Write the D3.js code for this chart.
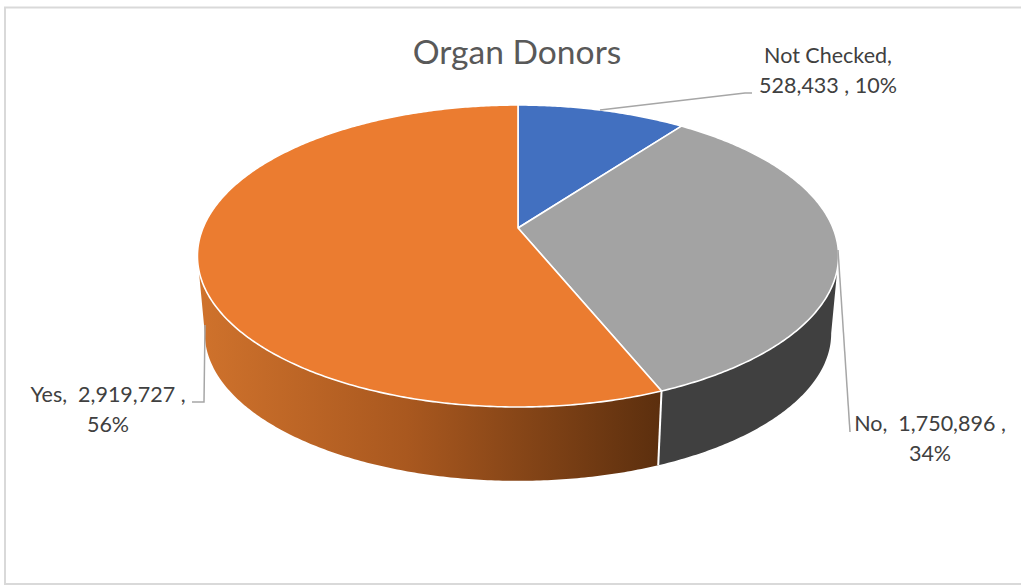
<!DOCTYPE html>
<html><head><meta charset="utf-8">
<script src="https://cdn.jsdelivr.net/npm/d3@7/dist/d3.min.js"></script>
<style>html,body{margin:0;padding:0;background:#fff}svg{display:block}text{font-family:Lato,"Open Sans",sans-serif}</style>
</head><body><svg id="c" width="1021" height="585"></svg>
<script>
const categories = ["Not Checked", "No", "Yes"];
const values = [528433, 1750896, 2919727];
const percents = ["10%", "34%", "56%"];
const colors = ["#4270C0", "#A3A3A3", "#EB7C30"];
const chartTitle = "Organ Donors";
const fmt = d3.format(",");
const svg = d3.select("#c");

svg.append("rect").attr("x",5).attr("y",7.5).attr("width",1030).attr("height",576.5)
  .attr("fill","#fff").attr("stroke","#d9d9d9").attr("stroke-width",2);

const defs = svg.append("defs");
const grad = defs.append("linearGradient").attr("id","sideOrange")
  .attr("gradientUnits","userSpaceOnUse").attr("x1",200).attr("x2",660).attr("y1",0).attr("y2",0);
grad.append("stop").attr("offset","0").attr("stop-color","#cf722c");
grad.append("stop").attr("offset","0.45").attr("stop-color","#a9581f");
grad.append("stop").attr("offset","1").attr("stop-color","#5c2f0e");

// perspective projection of the pie disc
const k = -0.1854;
function proj(theta, r, level){
  const u = r*Math.sin(theta), v = -r*Math.cos(theta), w = 1 + k*v;
  const s = level ? 0.977 : 1, dy = level ? 78 : 0;
  return [518 + 315*s*u/w, 228 + dy + 145.8*s*v/w];
}
function arcPts(a0,a1,level){
  const n = Math.max(2, Math.ceil(Math.abs(a1-a0)/0.01));
  return d3.range(n+1).map(i => proj(a0+(a1-a0)*i/n, 1, level));
}
const line = d3.line();
const arcs = d3.pie().sort(null)(values);

// side wall: from the right silhouette tangent to the left one
const tangent = Math.acos(k);
const sideG = svg.append("g");
arcs.forEach((d,i)=>{
  if(i===0) return;
  const a0 = i===1 ? tangent : d.startAngle;
  const a1 = i===2 ? 2*Math.PI - tangent : d.endAngle;
  const pts = arcPts(a0,a1,0).concat(arcPts(a1,a0,1));
  sideG.append("path").attr("d",line(pts)+"Z")
    .attr("fill", i===1 ? "#404040" : "url(#sideOrange)");
});
// edge between the two visible walls
const joint = arcs[1].endAngle;
sideG.append("path").attr("d",line([proj(joint,1,0),proj(joint,1,1)]))
  .attr("stroke","#fff").attr("stroke-width",2).attr("fill","none");

// top face
const topG = svg.append("g");
arcs.forEach((d,i)=>{
  const pts = [proj(0,0,0)].concat(arcPts(d.startAngle,d.endAngle,0));
  topG.append("path").attr("d",line(pts)+"Z")
    .attr("fill",colors[i]).attr("stroke","#fff").attr("stroke-width",1.6).attr("stroke-linejoin","round");
});

// leader lines
const leaders = [
  [[600,110],[745,93],[752,93]],
  [[838,250],[850,432]],
  [[205,325],[204,402],[192,402]]
];
svg.append("g").selectAll("path").data(leaders).join("path")
  .attr("d",d=>line(d)).attr("fill","none").attr("stroke","#a6a6a6").attr("stroke-width",1.5);

svg.append("text").attr("x",517).attr("y",64).attr("text-anchor","middle")
  .attr("font-size",33.6).attr("fill","#595959").text(chartTitle);

const labelLines = [
  [`${categories[0]},`, `${fmt(values[0])} , ${percents[0]}`],
  [`${categories[1]},\u00a0 ${fmt(values[1])} ,`, percents[1]],
  [`${categories[2]},\u00a0 ${fmt(values[2])} ,`, percents[2]]
];
const labelAt = [[828,63],[930,431],[108,402]];
labelLines.forEach((ls,i)=>{
  const t = svg.append("text").attr("text-anchor","middle").attr("font-size",21.5).attr("fill","#404040");
  ls.forEach((s,j)=>t.append("tspan").attr("x",labelAt[i][0]).attr("y",labelAt[i][1]+j*30).text(s));
});
</script></body></html>
